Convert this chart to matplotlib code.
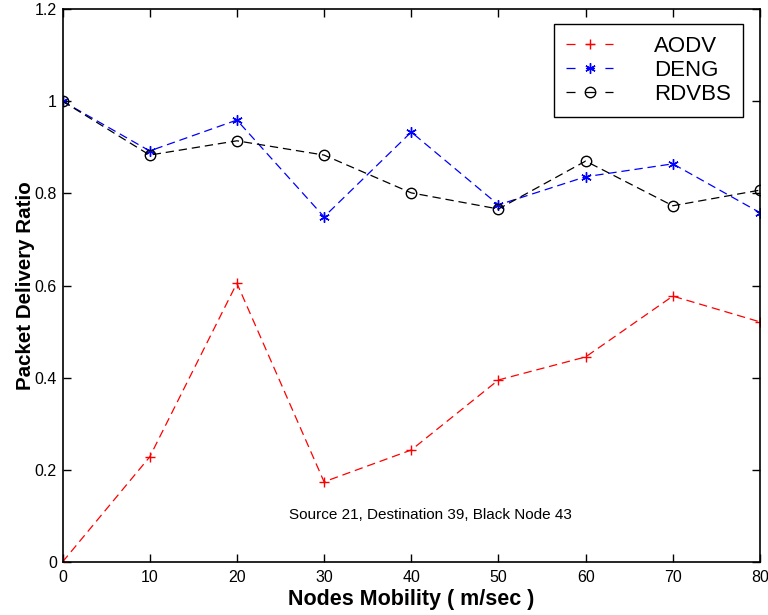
import matplotlib
matplotlib.use("Agg")
import matplotlib.pyplot as plt
from matplotlib.lines import Line2D

plt.rcParams["font.family"] = ["Liberation Sans", "DejaVu Sans"]
plt.rcParams["lines.scale_dashes"] = False

# node mobility (m/sec)
mobility = [0, 10, 20, 30, 40, 50, 60, 70, 80]

# packet delivery ratio per protocol
aodv = [0.0, 0.228, 0.605, 0.174, 0.243, 0.395, 0.445, 0.577, 0.521]
deng = [1.0, 0.892, 0.959, 0.749, 0.933, 0.775, 0.836, 0.864, 0.758]
rdvbs = [1.0, 0.883, 0.914, 0.883, 0.801, 0.766, 0.870, 0.773, 0.807]

labels = ["AODV", "DENG", "RDVBS"]
colors = ["red", "blue", "black"]
markers = ["+", (6, 2, 0), "o"]

x_ticks = [0, 10, 20, 30, 40, 50, 60, 70, 80]
y_ticks = [0, 0.2, 0.4, 0.6, 0.8, 1.0, 1.2]
y_tick_labels = ["0", "0.2", "0.4", "0.6", "0.8", "1", "1.2"]

note = "Source 21, Destination 39, Black Node 43"

fig = plt.figure(figsize=(7.68, 6.15), dpi=100)
ax = fig.add_axes([62.5 / 768, 53 / 615, 697.5 / 768, 553 / 615])

dash = (6, 3.5)
handles = []
for ys, lab, c, m in zip([aodv, deng, rdvbs], labels, colors, markers):
    mfc = "none" if m == "o" else c
    ax.plot(mobility, ys, color=c, ls="--", dashes=dash, lw=0.9,
            marker=m, ms=7.5, mew=1.0, mfc=mfc)
    # legend swatch: MATLAB-style "- x -" with wider gaps
    handles.append(Line2D([], [], color=c, ls="--", dashes=(6.5, 7.5), lw=0.9,
                          marker=m, ms=7.5, mew=1.0, mfc=mfc, label=lab))

ax.set_xlim(0, 80)
ax.set_ylim(0, 1.2)
ax.set_xticks(x_ticks)
ax.set_yticks(y_ticks)
ax.set_yticklabels(y_tick_labels)
ax.tick_params(direction="in", top=True, right=True, length=6, width=1,
               labelsize=11.5)
ax.tick_params(axis="x", pad=6)
ax.tick_params(axis="y", pad=4)
for sp in ax.spines.values():
    sp.set_linewidth(1.2)

ax.set_xlabel("Nodes Mobility ( m/sec )", fontsize=15.5, fontweight="bold", labelpad=3)
ax.set_ylabel("Packet Delivery Ratio", fontsize=14.8, fontweight="bold", labelpad=0)

ax.text(26, 0.102, note, fontsize=11, ha="left", va="center")

leg = ax.legend(handles=handles, loc="upper left",
                bbox_to_anchor=(554 / 768, 1 - 24 / 615),
                bbox_transform=fig.transFigure, fontsize=16, fancybox=False,
                edgecolor="black", framealpha=1, handlelength=2.1,
                handletextpad=1.85, labelspacing=0.12, borderpad=0.55,
                borderaxespad=0)
leg.get_frame().set_linewidth(1.0)

fig.savefig("out.png", dpi=100)
